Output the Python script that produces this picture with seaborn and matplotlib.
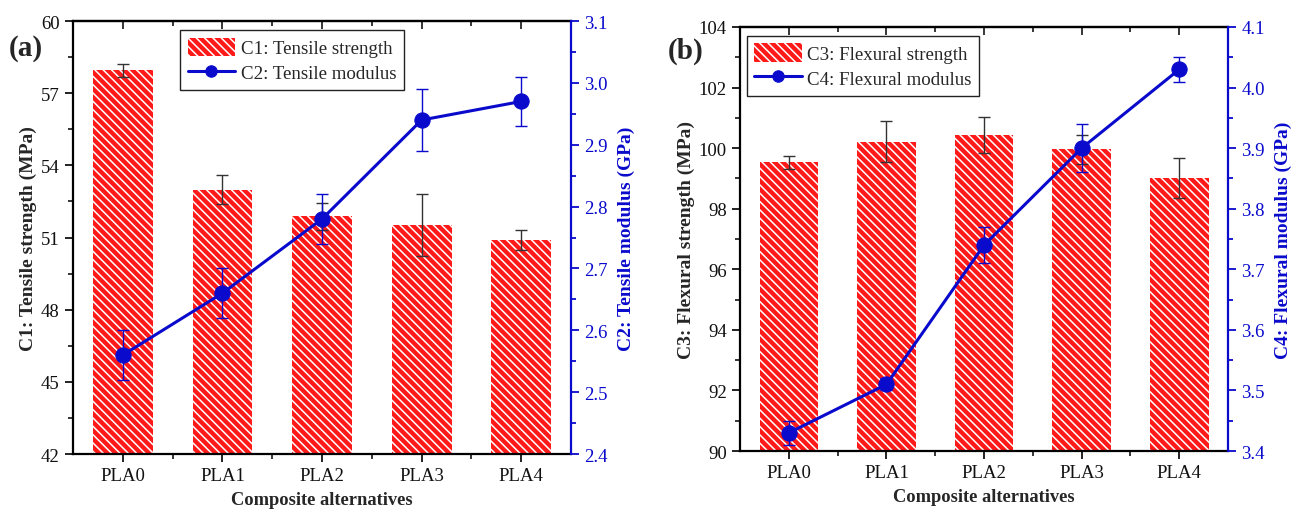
import numpy as np
import pandas as pd
import seaborn as sns
import matplotlib
matplotlib.use("Agg")
import matplotlib.pyplot as plt
from matplotlib.ticker import MultipleLocator, FixedLocator

# ---------------- data ----------------
categories = ["PLA0", "PLA1", "PLA2", "PLA3", "PLA4"]

tensile_strength = [57.95, 52.98, 51.88, 51.52, 50.90]
tensile_strength_err = [0.27, 0.60, 0.55, 1.30, 0.40]
tensile_modulus = [2.56, 2.66, 2.78, 2.94, 2.97]
tensile_modulus_err = [0.04, 0.04, 0.04, 0.05, 0.04]

flexural_strength = [99.53, 100.21, 100.43, 99.96, 99.00]
flexural_strength_err = [0.22, 0.68, 0.60, 0.49, 0.66]
flexural_modulus = [3.43, 3.51, 3.74, 3.90, 4.03]
flexural_modulus_err = [0.02, 0.01, 0.03, 0.04, 0.02]

# ---------------- style ----------------
sns.set_style("ticks")
plt.rcParams["font.family"] = ["Liberation Serif", "DejaVu Serif"]
plt.rcParams["hatch.linewidth"] = 1.1
plt.rcParams["hatch.color"] = "white"

RED = "#FF1A1A"
BLUE = "#0A0ACC"

fig = plt.figure(figsize=(12.92, 5.10), dpi=100)
ax_a = fig.add_axes([0.0565, 0.1078, 0.3855, 0.849])
ax_b = fig.add_axes([0.5728, 0.1137, 0.3777, 0.8314])


def panel(ax, bars, bars_err, line, line_err, ylim_l, step_l, ylim_r,
          lab_bar, lab_line, ylab_l, ylab_r, legend_anchor):
    df = pd.DataFrame({"cat": categories, "val": bars})
    sns.barplot(data=df, x="cat", y="val", ax=ax, width=0.6, color=RED,
                errorbar=None, saturation=1, edgecolor="white",
                linewidth=0, hatch="\\\\\\\\", zorder=1)
    for p in ax.patches:
        p.set_facecolor(RED)
        p.set_edgecolor("white")
    if ax.get_legend() is not None:
        ax.get_legend().remove()
    x = np.arange(len(categories))
    ax.errorbar(x, bars, yerr=bars_err, fmt="none", ecolor="#333333",
                elinewidth=1.0, capsize=4, capthick=1.0, zorder=2)
    ax.set_xlim(-0.5, len(categories) - 0.5)
    ax.set_ylim(*ylim_l)
    ax.yaxis.set_major_locator(MultipleLocator(step_l))
    ax.yaxis.set_minor_locator(MultipleLocator(step_l / 2))
    ax.xaxis.set_minor_locator(FixedLocator(x[:-1] + 0.5))
    ax.set_xlabel("Composite alternatives", fontsize=13.3, fontweight="bold",
                  labelpad=5)
    ax.set_ylabel(ylab_l, fontsize=14, fontweight="bold", labelpad=3)
    ax.tick_params(axis="both", which="major", direction="out", length=6,
                   width=1.3, labelsize=13.5, colors="#111111")
    ax.tick_params(axis="both", which="minor", direction="out", length=3.5,
                   width=1.3)
    for s in ax.spines.values():
        s.set_linewidth(1.6)
        s.set_color("black")
    ax.spines["right"].set_visible(False)

    ax2 = ax.twinx()
    ldf = pd.DataFrame({"x": x, "y": line})
    sns.lineplot(data=ldf, x="x", y="y", ax=ax2, color=BLUE, linewidth=2.2,
                 marker="o", markersize=11, markeredgecolor=BLUE,
                 legend=False, zorder=5)
    ax2.errorbar(x, line, yerr=line_err, fmt="none", ecolor=BLUE,
                 elinewidth=1.0, capsize=4, capthick=1.0, zorder=4)
    ax2.set_xlim(-0.5, len(categories) - 0.5)
    ax2.set_ylim(*ylim_r)
    ax2.yaxis.set_major_locator(MultipleLocator(0.1))
    ax2.yaxis.set_minor_locator(MultipleLocator(0.05))
    ax2.set_ylabel(ylab_r, fontsize=14, fontweight="bold", color=BLUE,
                   labelpad=7)
    ax2.set_xlabel("")
    ax2.tick_params(axis="y", which="major", direction="out", length=6,
                    width=1.3, labelsize=13.5, colors=BLUE)
    ax2.tick_params(axis="y", which="minor", direction="out", length=3.5,
                    width=1.3, colors=BLUE)
    for name, s in ax2.spines.items():
        s.set_linewidth(1.6)
        s.set_visible(name == "right")
    ax2.spines["right"].set_color(BLUE)

    # top mirror ticks pointing inward
    top = ax.secondary_xaxis("top")
    top.set_xticks(x)
    top.xaxis.set_minor_locator(FixedLocator(x[:-1] + 0.5))
    top.tick_params(axis="x", which="major", direction="in", length=6,
                    width=1.3, labeltop=False)
    top.tick_params(axis="x", which="minor", direction="in", length=3.5,
                    width=1.3)
    top.spines["top"].set_linewidth(1.6)

    h1 = ax.containers[0]
    h2 = ax2.lines[0]
    leg = ax2.legend([h1, h2], [lab_bar, lab_line], loc="upper left",
                     bbox_to_anchor=legend_anchor, borderaxespad=0,
                     fancybox=False, edgecolor="#222222", framealpha=1,
                     fontsize=13.6, handlelength=2.5, handleheight=1.1,
                     markerscale=0.75,
                     borderpad=0.4, labelspacing=0.3, handletextpad=0.3)
    leg.get_frame().set_linewidth(1.0)
    return ax2


panel(ax_a, tensile_strength, tensile_strength_err, tensile_modulus,
      tensile_modulus_err, (42, 60), 3, (2.4, 3.1),
      "C1: Tensile strength", "C2: Tensile modulus",
      "C1: Tensile strength (MPa)", "C2: Tensile modulus (GPa)",
      (0.215, 0.979))
panel(ax_b, flexural_strength, flexural_strength_err, flexural_modulus,
      flexural_modulus_err, (90, 104), 2, (3.4, 4.1),
      "C3: Flexural strength", "C4: Flexural modulus",
      "C3: Flexural strength (MPa)", "C4: Flexural modulus (GPa)",
      (0.014, 0.979))

fig.text(0.007, 0.904, "(a)", fontsize=21, fontweight="bold", va="center")
fig.text(0.517, 0.900, "(b)", fontsize=21, fontweight="bold", va="center")

fig.savefig("out.png", dpi=100)
